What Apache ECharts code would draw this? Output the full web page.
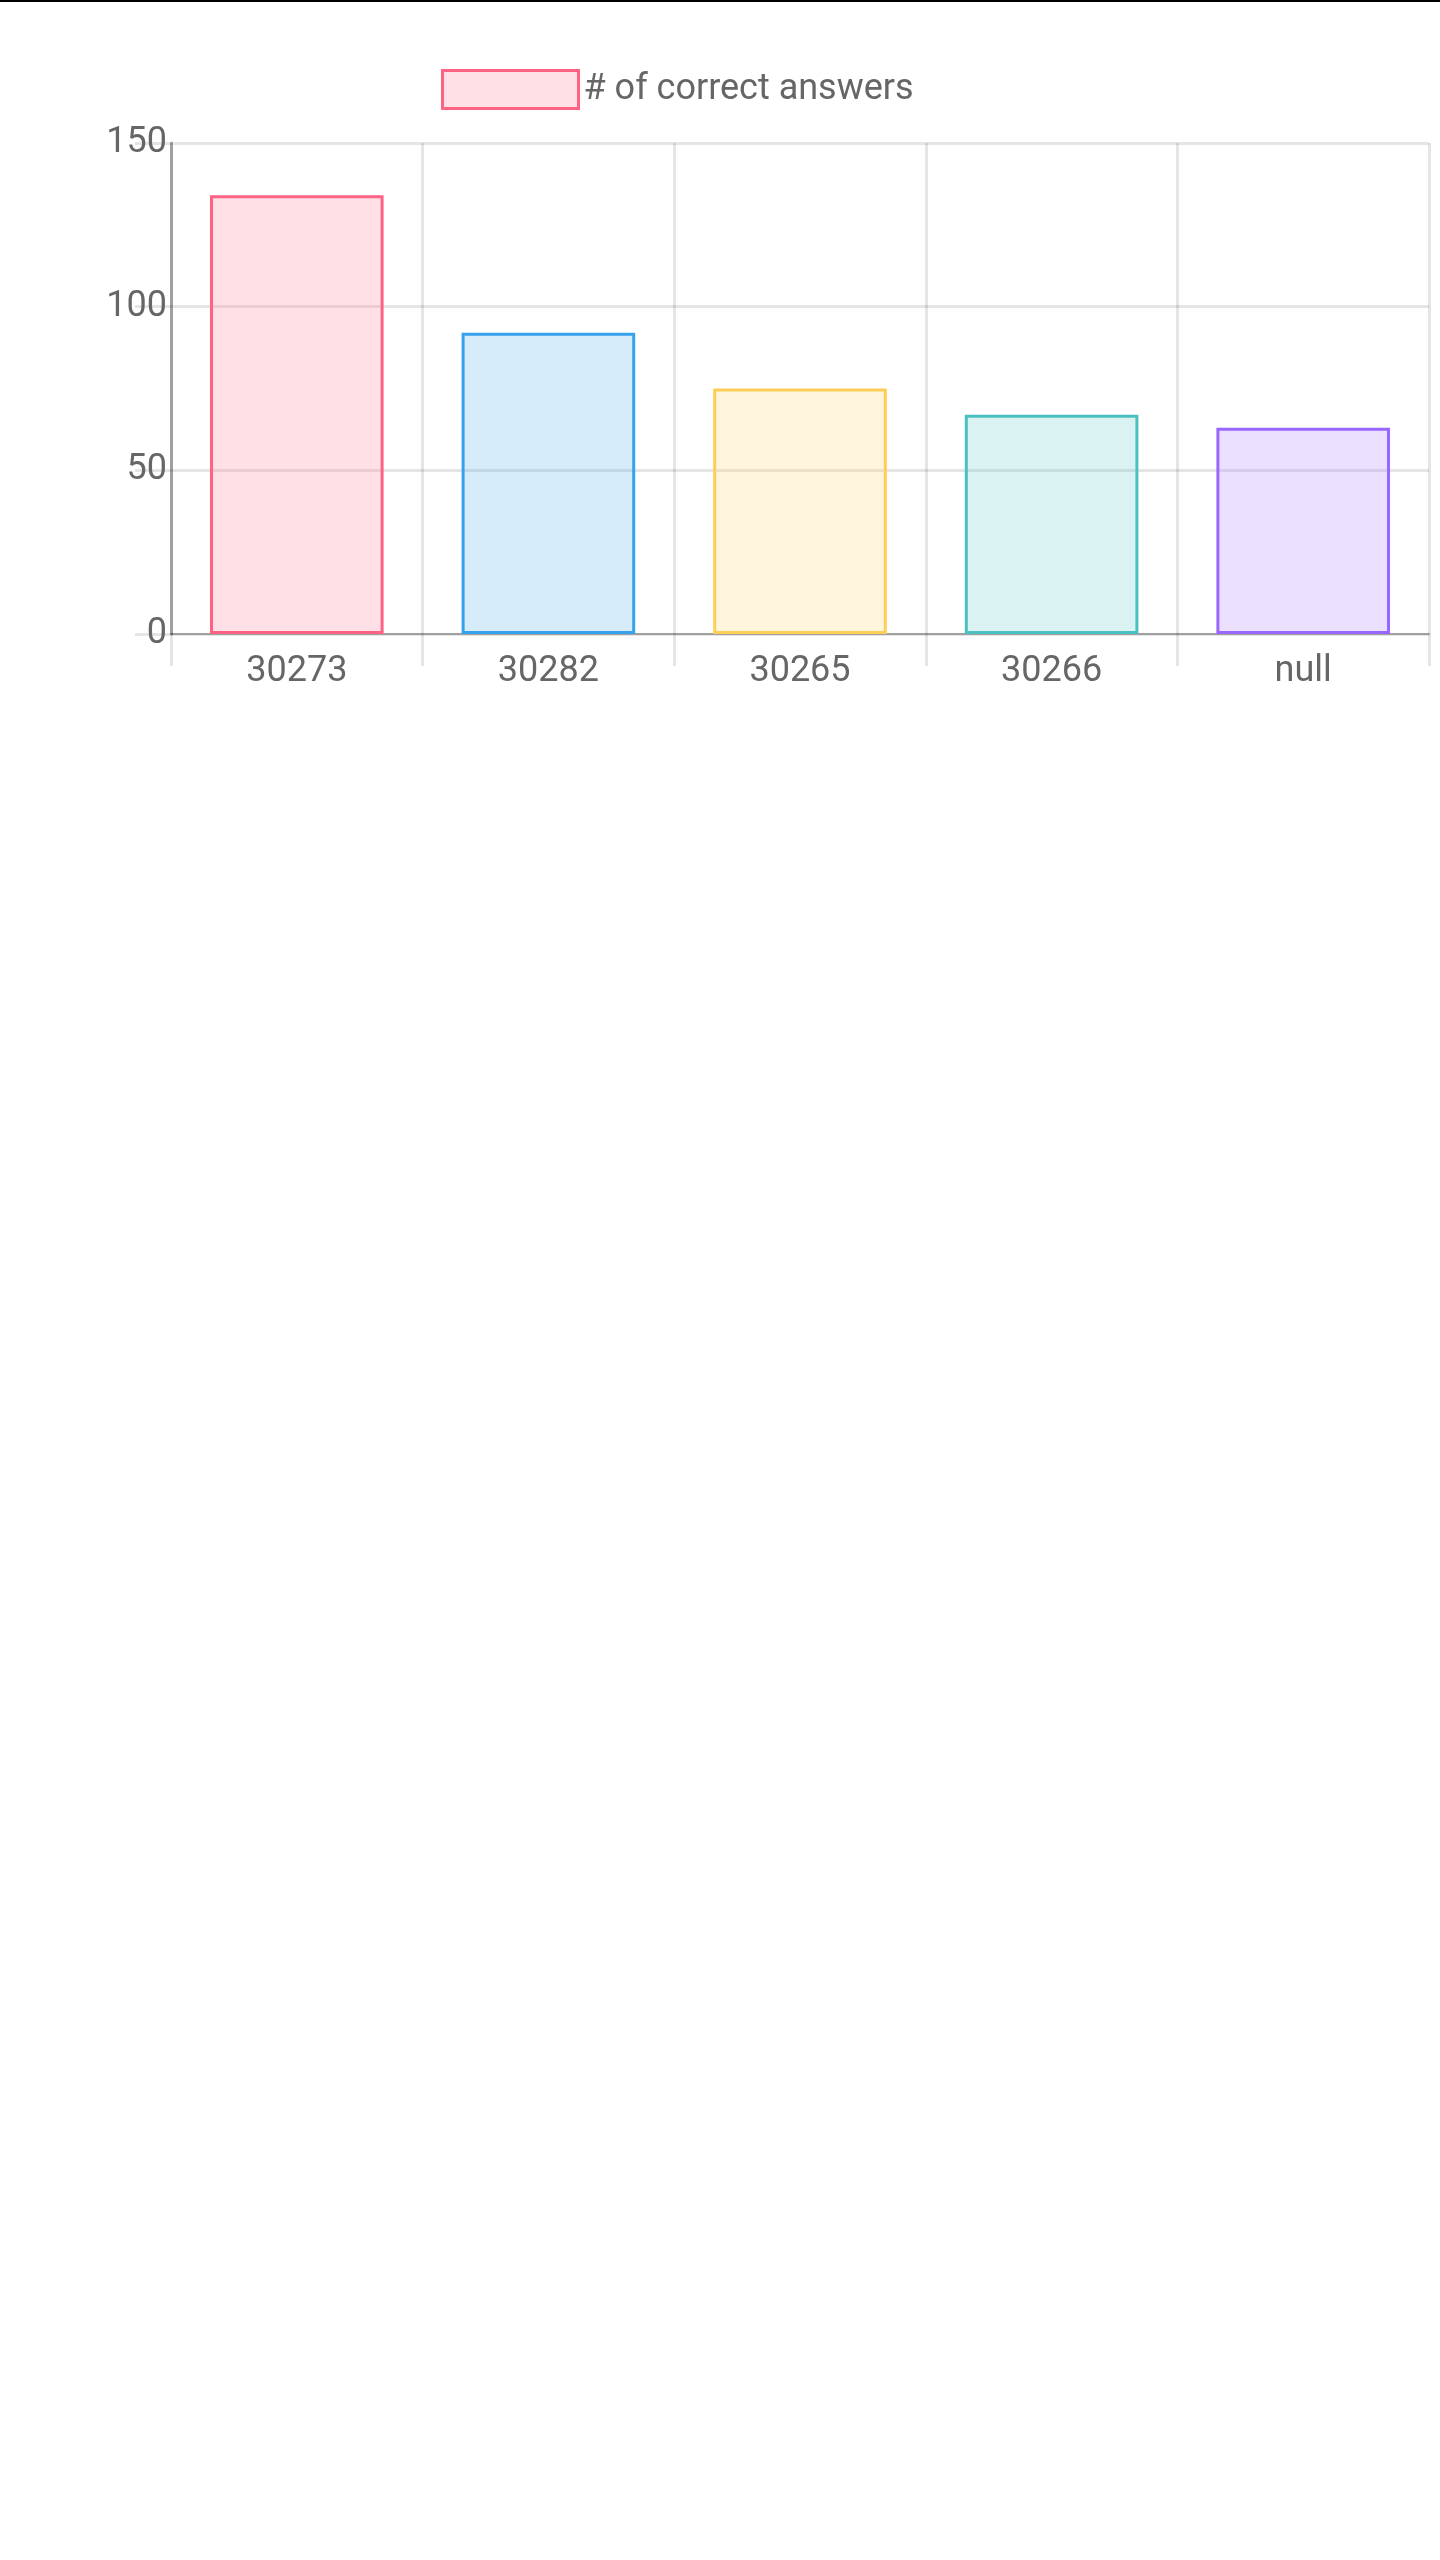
<!DOCTYPE html>
<html><head><meta charset="utf-8">
<script src="https://cdn.jsdelivr.net/npm/echarts@6/dist/echarts.min.js"></script>
<style>html,body{margin:0;padding:0;background:#fff}#top{height:2px;background:#000;width:1440px}#c{width:1440px;height:740px}</style>
</head><body><div id="top"></div><div id="c"></div>
<script>
const categories = ['30273','30282','30265','30266','null'];
const values = [134, 92, 75, 67, 63];
const yTicks = [0, 50, 100, 150];
const borders = ['rgb(255,99,132)','rgb(54,162,235)','rgb(255,206,86)','rgb(75,192,192)','rgb(153,102,255)'];
const fills = ['rgba(255,99,132,0.2)','rgba(54,162,235,0.2)','rgba(255,206,86,0.2)','rgba(75,192,192,0.2)','rgba(153,102,255,0.2)'];
const chart = echarts.init(document.getElementById('c'));
chart.setOption({
  animation:false,
  textStyle:{fontFamily:'Roboto'},
  legend:{left:436, top:62, itemWidth:136, itemHeight:38, itemGap:20,
    textStyle:{fontSize:36,color:'#666',fontFamily:'Roboto'},
    data:[{name:'# of correct answers', icon:'rect', itemStyle:{color:fills[0], borderColor:borders[0], borderWidth:3}}]},
  grid:{left:171, right:11, top:141, height:491},
  xAxis:{type:'category', data:categories,
    axisLine:{lineStyle:{color:'rgba(0,0,0,0.3)',width:2}},
    axisTick:{show:true, length:32, lineStyle:{color:'rgba(0,0,0,0.1)',width:3}},
    splitLine:{show:true, lineStyle:{color:'rgba(0,0,0,0.1)',width:3}},
    axisLabel:{fontSize:36,color:'#666',margin:20,fontFamily:'Roboto'}},
  yAxis:{type:'value', min:yTicks[0], max:yTicks[yTicks.length-1], interval:50,
    axisLine:{show:true, lineStyle:{color:'rgba(0,0,0,0.3)',width:3}},
    axisTick:{show:true, length:36, lineStyle:{color:'rgba(0,0,0,0.1)',width:3}},
    splitLine:{lineStyle:{color:'rgba(0,0,0,0.1)',width:3}},
    axisLabel:{fontSize:36,color:'#666',margin:4,fontFamily:'Roboto'}},
  series:[{name:'# of correct answers', type:'bar', barWidth:'69%',
    itemStyle:{color:fills[0], borderColor:borders[0], borderWidth:3},
    data: values.map((v,i)=>({value:v, itemStyle:{color:fills[i], borderColor:borders[i], borderWidth:3}}))}]
});
</script></body></html>
